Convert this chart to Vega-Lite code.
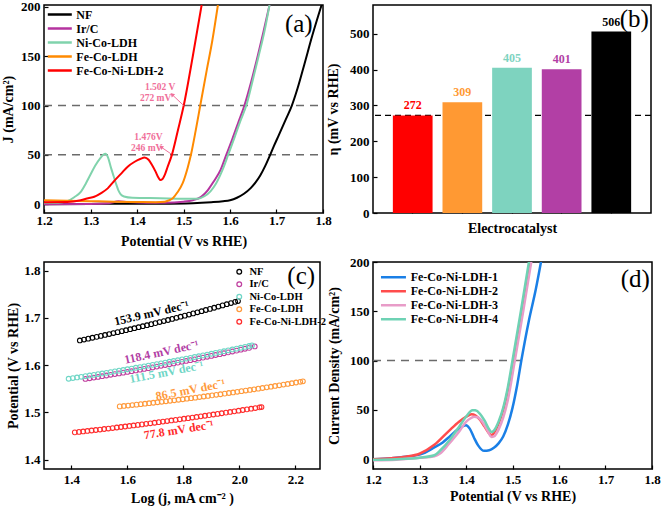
{
"$schema": "https://vega.github.io/schema/vega-lite/v6.json",
"background": "white",
"padding": {"left": 0, "top": 0, "right": 0, "bottom": 0},
"config": {
 "view": {"stroke": "black", "strokeWidth": 1.5},
 "font": "Liberation Serif",
 "axis": {"grid": false, "domain": false, "labelFont": "Liberation Serif", "labelFontSize": 13, "labelFontWeight": "bold", "labelColor": "#000", "titleFont": "Liberation Serif", "titleFontSize": 14, "titleFontWeight": "bold", "titleColor": "#000", "tickColor": "#000", "tickSize": -4, "tickWidth": 1.2, "labelPadding": 8, "titlePadding": 3, "labelFlush": false, "labelOverlap": false},
 "legend": {"labelFont": "Liberation Serif", "labelFontWeight": "bold", "labelColor": "#000", "title": null},
 "text": {"font": "Liberation Serif", "fontWeight": "bold"}
},
"columns": 2,
"spacing": {"row": 49, "column": 50},
"bounds": "flush",
"align": "all",
"resolve": {"scale": {"color": "independent"}},
"concat": [
 {
  "width": 279, "height": 208,
  "encoding": {
   "x": {"field": "V", "type": "quantitative", "scale": {"domain": [1.2, 1.8], "nice": false, "zero": false}, "axis": {"values": [1.2, 1.3, 1.4, 1.5, 1.6, 1.7, 1.8], "format": ".1f", "title": "Potential (V vs RHE)", "labelPadding": 5, "titlePadding": 7}},
   "y": {"field": "J", "type": "quantitative", "scale": {"domain": [-9, 202], "nice": false, "zero": false}, "axis": {"values": [0, 50, 100, 150, 200], "title": "J (mA/cm²)", "titlePadding": 5}}
  },
  "layer": [
   {"data": {"values": [{"V": 1.2, "V2": 1.8, "J": 50}, {"V": 1.2, "V2": 1.8, "J": 100}]},
    "mark": {"type": "rule", "color": "#6b6b6b", "strokeWidth": 1.5, "strokeDash": [8, 6]},
    "encoding": {"x2": {"field": "V2"}}},
   {"data": {"values": [
     {"s":"NF","V":1.2,"J":0},{"s":"NF","V":1.3,"J":0.2},{"s":"NF","V":1.35,"J":0.4},{"s":"NF","V":1.45,"J":0.5},{"s":"NF","V":1.52,"J":1},{"s":"NF","V":1.56,"J":2},{"s":"NF","V":1.585,"J":3},{"s":"NF","V":1.6,"J":4},{"s":"NF","V":1.615,"J":6.5},{"s":"NF","V":1.63,"J":10.5},{"s":"NF","V":1.645,"J":16.5},{"s":"NF","V":1.655,"J":22},{"s":"NF","V":1.665,"J":29},{"s":"NF","V":1.675,"J":38},{"s":"NF","V":1.685,"J":48.5},{"s":"NF","V":1.695,"J":59.5},{"s":"NF","V":1.705,"J":70},{"s":"NF","V":1.72,"J":86},{"s":"NF","V":1.733,"J":100},{"s":"NF","V":1.745,"J":117},{"s":"NF","V":1.76,"J":142},{"s":"NF","V":1.777,"J":171},{"s":"NF","V":1.797,"J":202},
     {"s":"Ir/C","V":1.2,"J":0},{"s":"Ir/C","V":1.3,"J":0.2},{"s":"Ir/C","V":1.34,"J":1},{"s":"Ir/C","V":1.36,"J":2.8},{"s":"Ir/C","V":1.38,"J":2.2},{"s":"Ir/C","V":1.42,"J":1.5},{"s":"Ir/C","V":1.46,"J":1.5},{"s":"Ir/C","V":1.5,"J":2.5},{"s":"Ir/C","V":1.52,"J":4},{"s":"Ir/C","V":1.538,"J":7.4},{"s":"Ir/C","V":1.552,"J":14},{"s":"Ir/C","V":1.565,"J":23},{"s":"Ir/C","V":1.58,"J":35},{"s":"Ir/C","V":1.592,"J":50},{"s":"Ir/C","V":1.605,"J":66},{"s":"Ir/C","V":1.618,"J":83},{"s":"Ir/C","V":1.631,"J":100},{"s":"Ir/C","V":1.645,"J":123},{"s":"Ir/C","V":1.66,"J":151},{"s":"Ir/C","V":1.672,"J":175},{"s":"Ir/C","V":1.685,"J":202},
     {"s":"Ni-Co-LDH","V":1.2,"J":1.5},{"s":"Ni-Co-LDH","V":1.23,"J":1.5},{"s":"Ni-Co-LDH","V":1.25,"J":3},{"s":"Ni-Co-LDH","V":1.265,"J":7},{"s":"Ni-Co-LDH","V":1.28,"J":13},{"s":"Ni-Co-LDH","V":1.29,"J":21},{"s":"Ni-Co-LDH","V":1.3,"J":30},{"s":"Ni-Co-LDH","V":1.31,"J":39},{"s":"Ni-Co-LDH","V":1.32,"J":46},{"s":"Ni-Co-LDH","V":1.332,"J":51},{"s":"Ni-Co-LDH","V":1.338,"J":47},{"s":"Ni-Co-LDH","V":1.344,"J":37},{"s":"Ni-Co-LDH","V":1.35,"J":28},{"s":"Ni-Co-LDH","V":1.355,"J":20.5},{"s":"Ni-Co-LDH","V":1.36,"J":14},{"s":"Ni-Co-LDH","V":1.365,"J":10},{"s":"Ni-Co-LDH","V":1.372,"J":7.8},{"s":"Ni-Co-LDH","V":1.39,"J":6.5},{"s":"Ni-Co-LDH","V":1.45,"J":6},{"s":"Ni-Co-LDH","V":1.5,"J":5.5},{"s":"Ni-Co-LDH","V":1.53,"J":5.5},{"s":"Ni-Co-LDH","V":1.545,"J":8},{"s":"Ni-Co-LDH","V":1.558,"J":13},{"s":"Ni-Co-LDH","V":1.57,"J":21},{"s":"Ni-Co-LDH","V":1.585,"J":36},{"s":"Ni-Co-LDH","V":1.596,"J":50},{"s":"Ni-Co-LDH","V":1.61,"J":68},{"s":"Ni-Co-LDH","V":1.622,"J":84},{"s":"Ni-Co-LDH","V":1.635,"J":100},{"s":"Ni-Co-LDH","V":1.648,"J":124},{"s":"Ni-Co-LDH","V":1.662,"J":151},{"s":"Ni-Co-LDH","V":1.674,"J":175},{"s":"Ni-Co-LDH","V":1.685,"J":202},
     {"s":"Fe-Co-LDH","V":1.2,"J":4},{"s":"Fe-Co-LDH","V":1.25,"J":3.5},{"s":"Fe-Co-LDH","V":1.3,"J":3},{"s":"Fe-Co-LDH","V":1.35,"J":2.5},{"s":"Fe-Co-LDH","V":1.4,"J":2.2},{"s":"Fe-Co-LDH","V":1.44,"J":2},{"s":"Fe-Co-LDH","V":1.46,"J":2.5},{"s":"Fe-Co-LDH","V":1.468,"J":3.7},{"s":"Fe-Co-LDH","V":1.477,"J":6},{"s":"Fe-Co-LDH","V":1.487,"J":12},{"s":"Fe-Co-LDH","V":1.498,"J":21},{"s":"Fe-Co-LDH","V":1.509,"J":37},{"s":"Fe-Co-LDH","V":1.516,"J":50},{"s":"Fe-Co-LDH","V":1.526,"J":74},{"s":"Fe-Co-LDH","V":1.536,"J":100},{"s":"Fe-Co-LDH","V":1.55,"J":136},{"s":"Fe-Co-LDH","V":1.562,"J":166},{"s":"Fe-Co-LDH","V":1.574,"J":202},
     {"s":"Fe-Co-Ni-LDH-2","V":1.2,"J":2},{"s":"Fe-Co-Ni-LDH-2","V":1.25,"J":2.2},{"s":"Fe-Co-Ni-LDH-2","V":1.279,"J":4},{"s":"Fe-Co-Ni-LDH-2","V":1.295,"J":6},{"s":"Fe-Co-Ni-LDH-2","V":1.308,"J":7.5},{"s":"Fe-Co-Ni-LDH-2","V":1.322,"J":11},{"s":"Fe-Co-Ni-LDH-2","V":1.337,"J":16},{"s":"Fe-Co-Ni-LDH-2","V":1.35,"J":23},{"s":"Fe-Co-Ni-LDH-2","V":1.366,"J":31},{"s":"Fe-Co-Ni-LDH-2","V":1.38,"J":38},{"s":"Fe-Co-Ni-LDH-2","V":1.395,"J":43},{"s":"Fe-Co-Ni-LDH-2","V":1.408,"J":46},{"s":"Fe-Co-Ni-LDH-2","V":1.416,"J":47.3},{"s":"Fe-Co-Ni-LDH-2","V":1.425,"J":45},{"s":"Fe-Co-Ni-LDH-2","V":1.432,"J":40},{"s":"Fe-Co-Ni-LDH-2","V":1.44,"J":33},{"s":"Fe-Co-Ni-LDH-2","V":1.446,"J":27},{"s":"Fe-Co-Ni-LDH-2","V":1.45,"J":24.5},{"s":"Fe-Co-Ni-LDH-2","V":1.455,"J":25.5},{"s":"Fe-Co-Ni-LDH-2","V":1.46,"J":30},{"s":"Fe-Co-Ni-LDH-2","V":1.466,"J":38},{"s":"Fe-Co-Ni-LDH-2","V":1.475,"J":50},{"s":"Fe-Co-Ni-LDH-2","V":1.488,"J":75},{"s":"Fe-Co-Ni-LDH-2","V":1.5005,"J":100},{"s":"Fe-Co-Ni-LDH-2","V":1.52,"J":150},{"s":"Fe-Co-Ni-LDH-2","V":1.539,"J":202}
    ]},
    "mark": {"type": "line", "strokeWidth": 2, "interpolate": "monotone", "clip": true},
    "encoding": {"color": {"field": "s", "type": "nominal", "scale": {"domain": ["NF", "Ir/C", "Ni-Co-LDH", "Fe-Co-LDH", "Fe-Co-Ni-LDH-2"], "range": ["#000000", "#B5339F", "#80D3AC", "#FF8A00", "#FF0000"]},
      "legend": {"orient": "none", "legendX": 14.3, "legendY": 2, "labelFontSize": 12, "symbolType": "M-3,0H1", "symbolStrokeWidth": 2.5, "symbolSize": 144, "rowPadding": -1, "labelOffset": 3}}}},
   {"data": {"values": [{"V": 1.5005, "J": 100, "V2": 1.4753, "J2": 111.2}, {"V": 1.4731, "J": 51, "V2": 1.4516, "J2": 58}]},
    "mark": {"type": "rule", "color": "#F0709A", "strokeWidth": 1},
    "encoding": {"x2": {"field": "V2"}, "y2": {"field": "J2"}}},
   {"data": {"values": [{"V": 1.4753, "J": 111.2}]},
    "mark": {"type": "point", "shape": "triangle-up", "filled": true, "size": 22, "angle": 315, "color": "#F0709A", "opacity": 1}},
   {"data": {"values": [{"V": 1.4516, "J": 58}]},
    "mark": {"type": "point", "shape": "triangle-up", "filled": true, "size": 22, "angle": 304, "color": "#F0709A", "opacity": 1}},
   {"data": {"values": [{"V": 1.4498, "J": 118.8, "t": "1.502 V"}, {"V": 1.4401, "J": 107.4, "t": "272 mV"}, {"V": 1.4246, "J": 68.5, "t": "1.476V"}, {"V": 1.421, "J": 57, "t": "246 mV"}]},
    "mark": {"type": "text", "fontSize": 9.5, "color": "#F0709A"},
    "encoding": {"text": {"field": "t"}}},
   {"data": {"values": [{"V": 1.748, "J": 183, "t": "(a)"}]},
    "mark": {"type": "text", "fontSize": 25, "fontWeight": "normal", "color": "#000"},
    "encoding": {"text": {"field": "t"}}}
  ]
 },
 {
  "width": 278, "height": 208,
  "data": {"values": [{"c": "Fe-Co-Ni-LDH-2", "eta": 272}, {"c": "Fe-Co-LDH", "eta": 309}, {"c": "Ni-Co-LDH", "eta": 405}, {"c": "Ir/C", "eta": 401}, {"c": "NF", "eta": 506}]},
  "encoding": {
   "x": {"field": "c", "type": "nominal", "sort": null, "scale": {"domain": ["Fe-Co-Ni-LDH-2", "Fe-Co-LDH", "Ni-Co-LDH", "Ir/C", "NF"], "paddingInner": 0.2, "paddingOuter": 0.4}, "axis": {"labels": false, "title": "Electrocatalyst", "titlePadding": 8}},
   "y": {"field": "eta", "type": "quantitative", "scale": {"domain": [0, 580], "nice": false}, "axis": {"values": [0, 100, 200, 300, 400, 500], "title": "η (mV vs RHE)", "titlePadding": 9}}
  },
  "layer": [
   {"data": {"values": [{"r": 272}]}, "mark": {"type": "rule", "color": "#000", "strokeWidth": 1.2, "strokeDash": [6, 4]},
    "encoding": {"x": null, "y": {"field": "r", "type": "quantitative"}}},
   {"mark": {"type": "bar"},
    "encoding": {"color": {"field": "c", "type": "nominal", "scale": {"domain": ["Fe-Co-Ni-LDH-2", "Fe-Co-LDH", "Ni-Co-LDH", "Ir/C", "NF"], "range": ["#FF0000", "#FF9933", "#7ED3BF", "#B23FA5", "#000000"]}, "legend": null}}},
   {"mark": {"type": "text", "fontSize": 12, "baseline": "bottom", "dy": -3},
    "encoding": {"text": {"field": "eta"}, "color": {"field": "c", "type": "nominal", "scale": {"domain": ["Fe-Co-Ni-LDH-2", "Fe-Co-LDH", "Ni-Co-LDH", "Ir/C", "NF"], "range": ["#FF0000", "#FF8C1A", "#7ED3BF", "#B23FA5", "#000000"]}, "legend": null}}},
   {"data": {"values": [{"c": "NF", "eta": 540, "t": "(b)"}]},
    "mark": {"type": "text", "fontSize": 25, "fontWeight": "normal", "color": "#000", "dx": 23},
    "encoding": {"text": {"field": "t"}}}
  ]
 },
 {
  "width": 276, "height": 207,
  "encoding": {
   "x": {"field": "L", "type": "quantitative", "scale": {"domain": [1.302, 2.288], "nice": false, "zero": false}, "axis": {"values": [1.4, 1.6, 1.8, 2.0, 2.2], "format": ".1f", "title": "Log (j, mA cm⁻² )", "titlePadding": 5}},
   "y": {"field": "P", "type": "quantitative", "scale": {"domain": [1.38, 1.818], "nice": false, "zero": false}, "axis": {"values": [1.4, 1.5, 1.6, 1.7, 1.8], "format": ".1f", "title": "Potential (V vs RHE)"}}
  },
  "layer": [
   {"data": {"values": [
    {"s":"NF","L":1.43,"P":1.652},{"s":"NF","L":1.445,"P":1.6539},{"s":"NF","L":1.46,"P":1.6558},{"s":"NF","L":1.475,"P":1.6577},{"s":"NF","L":1.49,"P":1.6596},{"s":"NF","L":1.505,"P":1.6616},{"s":"NF","L":1.52,"P":1.6636},{"s":"NF","L":1.535,"P":1.6656},{"s":"NF","L":1.55,"P":1.6676},{"s":"NF","L":1.565,"P":1.6696},{"s":"NF","L":1.58,"P":1.6717},{"s":"NF","L":1.595,"P":1.6737},{"s":"NF","L":1.61,"P":1.6758},{"s":"NF","L":1.625,"P":1.6779},{"s":"NF","L":1.64,"P":1.68},{"s":"NF","L":1.655,"P":1.6822},{"s":"NF","L":1.67,"P":1.6843},{"s":"NF","L":1.685,"P":1.6865},{"s":"NF","L":1.7,"P":1.6887},{"s":"NF","L":1.715,"P":1.6909},{"s":"NF","L":1.73,"P":1.6931},{"s":"NF","L":1.745,"P":1.6953},{"s":"NF","L":1.76,"P":1.6976},{"s":"NF","L":1.775,"P":1.6999},{"s":"NF","L":1.79,"P":1.7022},{"s":"NF","L":1.805,"P":1.7045},{"s":"NF","L":1.82,"P":1.7068},{"s":"NF","L":1.835,"P":1.7092},{"s":"NF","L":1.85,"P":1.7116},{"s":"NF","L":1.865,"P":1.7139},{"s":"NF","L":1.88,"P":1.7164},{"s":"NF","L":1.895,"P":1.7188},{"s":"NF","L":1.91,"P":1.7212},{"s":"NF","L":1.925,"P":1.7237},{"s":"NF","L":1.94,"P":1.7262},{"s":"NF","L":1.955,"P":1.7287},{"s":"NF","L":1.97,"P":1.7312},{"s":"NF","L":1.985,"P":1.7337},{"s":"NF","L":1.995,"P":1.7354},
    {"s":"Ir/C","L":1.45,"P":1.5705},{"s":"Ir/C","L":1.465,"P":1.5719},{"s":"Ir/C","L":1.48,"P":1.5734},{"s":"Ir/C","L":1.495,"P":1.5748},{"s":"Ir/C","L":1.51,"P":1.5763},{"s":"Ir/C","L":1.525,"P":1.5778},{"s":"Ir/C","L":1.54,"P":1.5793},{"s":"Ir/C","L":1.555,"P":1.5808},{"s":"Ir/C","L":1.57,"P":1.5823},{"s":"Ir/C","L":1.585,"P":1.5839},{"s":"Ir/C","L":1.6,"P":1.5854},{"s":"Ir/C","L":1.615,"P":1.587},{"s":"Ir/C","L":1.63,"P":1.5886},{"s":"Ir/C","L":1.645,"P":1.5902},{"s":"Ir/C","L":1.66,"P":1.5918},{"s":"Ir/C","L":1.675,"P":1.5934},{"s":"Ir/C","L":1.69,"P":1.595},{"s":"Ir/C","L":1.705,"P":1.5967},{"s":"Ir/C","L":1.72,"P":1.5983},{"s":"Ir/C","L":1.735,"P":1.6},{"s":"Ir/C","L":1.75,"P":1.6017},{"s":"Ir/C","L":1.765,"P":1.6034},{"s":"Ir/C","L":1.78,"P":1.6051},{"s":"Ir/C","L":1.795,"P":1.6068},{"s":"Ir/C","L":1.81,"P":1.6086},{"s":"Ir/C","L":1.825,"P":1.6103},{"s":"Ir/C","L":1.84,"P":1.6121},{"s":"Ir/C","L":1.855,"P":1.6139},{"s":"Ir/C","L":1.87,"P":1.6157},{"s":"Ir/C","L":1.885,"P":1.6175},{"s":"Ir/C","L":1.9,"P":1.6193},{"s":"Ir/C","L":1.915,"P":1.6212},{"s":"Ir/C","L":1.93,"P":1.623},{"s":"Ir/C","L":1.945,"P":1.6249},{"s":"Ir/C","L":1.96,"P":1.6268},{"s":"Ir/C","L":1.975,"P":1.6286},{"s":"Ir/C","L":1.99,"P":1.6305},{"s":"Ir/C","L":2.005,"P":1.6325},{"s":"Ir/C","L":2.02,"P":1.6344},{"s":"Ir/C","L":2.035,"P":1.6363},{"s":"Ir/C","L":2.055,"P":1.6394},
    {"s":"Ni-Co-LDH","L":1.39,"P":1.571},{"s":"Ni-Co-LDH","L":1.405,"P":1.5724},{"s":"Ni-Co-LDH","L":1.42,"P":1.5737},{"s":"Ni-Co-LDH","L":1.435,"P":1.5751},{"s":"Ni-Co-LDH","L":1.45,"P":1.5765},{"s":"Ni-Co-LDH","L":1.465,"P":1.5779},{"s":"Ni-Co-LDH","L":1.48,"P":1.5793},{"s":"Ni-Co-LDH","L":1.495,"P":1.5807},{"s":"Ni-Co-LDH","L":1.51,"P":1.5822},{"s":"Ni-Co-LDH","L":1.525,"P":1.5836},{"s":"Ni-Co-LDH","L":1.54,"P":1.5851},{"s":"Ni-Co-LDH","L":1.555,"P":1.5866},{"s":"Ni-Co-LDH","L":1.57,"P":1.5881},{"s":"Ni-Co-LDH","L":1.585,"P":1.5896},{"s":"Ni-Co-LDH","L":1.6,"P":1.5911},{"s":"Ni-Co-LDH","L":1.615,"P":1.5926},{"s":"Ni-Co-LDH","L":1.63,"P":1.5942},{"s":"Ni-Co-LDH","L":1.645,"P":1.5957},{"s":"Ni-Co-LDH","L":1.66,"P":1.5973},{"s":"Ni-Co-LDH","L":1.675,"P":1.5988},{"s":"Ni-Co-LDH","L":1.69,"P":1.6004},{"s":"Ni-Co-LDH","L":1.705,"P":1.602},{"s":"Ni-Co-LDH","L":1.72,"P":1.6036},{"s":"Ni-Co-LDH","L":1.735,"P":1.6053},{"s":"Ni-Co-LDH","L":1.75,"P":1.6069},{"s":"Ni-Co-LDH","L":1.765,"P":1.6085},{"s":"Ni-Co-LDH","L":1.78,"P":1.6102},{"s":"Ni-Co-LDH","L":1.795,"P":1.6119},{"s":"Ni-Co-LDH","L":1.81,"P":1.6136},{"s":"Ni-Co-LDH","L":1.825,"P":1.6153},{"s":"Ni-Co-LDH","L":1.84,"P":1.617},{"s":"Ni-Co-LDH","L":1.855,"P":1.6187},{"s":"Ni-Co-LDH","L":1.87,"P":1.6204},{"s":"Ni-Co-LDH","L":1.885,"P":1.6222},{"s":"Ni-Co-LDH","L":1.9,"P":1.6239},{"s":"Ni-Co-LDH","L":1.915,"P":1.6257},{"s":"Ni-Co-LDH","L":1.93,"P":1.6275},{"s":"Ni-Co-LDH","L":1.945,"P":1.6293},{"s":"Ni-Co-LDH","L":1.96,"P":1.6311},{"s":"Ni-Co-LDH","L":1.975,"P":1.6329},{"s":"Ni-Co-LDH","L":1.99,"P":1.6347},{"s":"Ni-Co-LDH","L":2.005,"P":1.6366},{"s":"Ni-Co-LDH","L":2.02,"P":1.6384},{"s":"Ni-Co-LDH","L":2.035,"P":1.6403},{"s":"Ni-Co-LDH","L":2.045,"P":1.6415},
    {"s":"Fe-Co-LDH","L":1.5725,"P":1.5125},{"s":"Fe-Co-LDH","L":1.5875,"P":1.5134},{"s":"Fe-Co-LDH","L":1.6025,"P":1.5143},{"s":"Fe-Co-LDH","L":1.6175,"P":1.5153},{"s":"Fe-Co-LDH","L":1.6325,"P":1.5162},{"s":"Fe-Co-LDH","L":1.6475,"P":1.5172},{"s":"Fe-Co-LDH","L":1.6625,"P":1.5182},{"s":"Fe-Co-LDH","L":1.6775,"P":1.5192},{"s":"Fe-Co-LDH","L":1.6925,"P":1.5202},{"s":"Fe-Co-LDH","L":1.7075,"P":1.5212},{"s":"Fe-Co-LDH","L":1.7225,"P":1.5222},{"s":"Fe-Co-LDH","L":1.7375,"P":1.5233},{"s":"Fe-Co-LDH","L":1.7525,"P":1.5243},{"s":"Fe-Co-LDH","L":1.7675,"P":1.5254},{"s":"Fe-Co-LDH","L":1.7825,"P":1.5265},{"s":"Fe-Co-LDH","L":1.7975,"P":1.5276},{"s":"Fe-Co-LDH","L":1.8125,"P":1.5287},{"s":"Fe-Co-LDH","L":1.8275,"P":1.5299},{"s":"Fe-Co-LDH","L":1.8425,"P":1.531},{"s":"Fe-Co-LDH","L":1.8575,"P":1.5322},{"s":"Fe-Co-LDH","L":1.8725,"P":1.5334},{"s":"Fe-Co-LDH","L":1.8875,"P":1.5346},{"s":"Fe-Co-LDH","L":1.9025,"P":1.5358},{"s":"Fe-Co-LDH","L":1.9175,"P":1.537},{"s":"Fe-Co-LDH","L":1.9325,"P":1.5382},{"s":"Fe-Co-LDH","L":1.9475,"P":1.5395},{"s":"Fe-Co-LDH","L":1.9625,"P":1.5408},{"s":"Fe-Co-LDH","L":1.9775,"P":1.542},{"s":"Fe-Co-LDH","L":1.9925,"P":1.5433},{"s":"Fe-Co-LDH","L":2.0075,"P":1.5447},{"s":"Fe-Co-LDH","L":2.0225,"P":1.546},{"s":"Fe-Co-LDH","L":2.0375,"P":1.5473},{"s":"Fe-Co-LDH","L":2.0525,"P":1.5487},{"s":"Fe-Co-LDH","L":2.0675,"P":1.55},{"s":"Fe-Co-LDH","L":2.0825,"P":1.5514},{"s":"Fe-Co-LDH","L":2.0975,"P":1.5528},{"s":"Fe-Co-LDH","L":2.1125,"P":1.5542},{"s":"Fe-Co-LDH","L":2.1275,"P":1.5557},{"s":"Fe-Co-LDH","L":2.1425,"P":1.5571},{"s":"Fe-Co-LDH","L":2.1575,"P":1.5586},{"s":"Fe-Co-LDH","L":2.1725,"P":1.56},{"s":"Fe-Co-LDH","L":2.1875,"P":1.5615},{"s":"Fe-Co-LDH","L":2.2025,"P":1.563},{"s":"Fe-Co-LDH","L":2.2175,"P":1.5645},{"s":"Fe-Co-LDH","L":2.227,"P":1.5655},
    {"s":"Fe-Co-Ni-LDH-2","L":1.412,"P":1.4575},{"s":"Fe-Co-Ni-LDH-2","L":1.427,"P":1.4585},{"s":"Fe-Co-Ni-LDH-2","L":1.442,"P":1.4595},{"s":"Fe-Co-Ni-LDH-2","L":1.457,"P":1.4605},{"s":"Fe-Co-Ni-LDH-2","L":1.472,"P":1.4615},{"s":"Fe-Co-Ni-LDH-2","L":1.487,"P":1.4625},{"s":"Fe-Co-Ni-LDH-2","L":1.502,"P":1.4635},{"s":"Fe-Co-Ni-LDH-2","L":1.517,"P":1.4646},{"s":"Fe-Co-Ni-LDH-2","L":1.532,"P":1.4656},{"s":"Fe-Co-Ni-LDH-2","L":1.547,"P":1.4667},{"s":"Fe-Co-Ni-LDH-2","L":1.562,"P":1.4678},{"s":"Fe-Co-Ni-LDH-2","L":1.577,"P":1.4689},{"s":"Fe-Co-Ni-LDH-2","L":1.592,"P":1.4699},{"s":"Fe-Co-Ni-LDH-2","L":1.607,"P":1.4711},{"s":"Fe-Co-Ni-LDH-2","L":1.622,"P":1.4722},{"s":"Fe-Co-Ni-LDH-2","L":1.637,"P":1.4733},{"s":"Fe-Co-Ni-LDH-2","L":1.652,"P":1.4744},{"s":"Fe-Co-Ni-LDH-2","L":1.667,"P":1.4756},{"s":"Fe-Co-Ni-LDH-2","L":1.682,"P":1.4767},{"s":"Fe-Co-Ni-LDH-2","L":1.697,"P":1.4779},{"s":"Fe-Co-Ni-LDH-2","L":1.712,"P":1.4791},{"s":"Fe-Co-Ni-LDH-2","L":1.727,"P":1.4803},{"s":"Fe-Co-Ni-LDH-2","L":1.742,"P":1.4815},{"s":"Fe-Co-Ni-LDH-2","L":1.757,"P":1.4827},{"s":"Fe-Co-Ni-LDH-2","L":1.772,"P":1.4839},{"s":"Fe-Co-Ni-LDH-2","L":1.787,"P":1.4851},{"s":"Fe-Co-Ni-LDH-2","L":1.802,"P":1.4864},{"s":"Fe-Co-Ni-LDH-2","L":1.817,"P":1.4876},{"s":"Fe-Co-Ni-LDH-2","L":1.832,"P":1.4889},{"s":"Fe-Co-Ni-LDH-2","L":1.847,"P":1.4901},{"s":"Fe-Co-Ni-LDH-2","L":1.862,"P":1.4914},{"s":"Fe-Co-Ni-LDH-2","L":1.877,"P":1.4927},{"s":"Fe-Co-Ni-LDH-2","L":1.892,"P":1.494},{"s":"Fe-Co-Ni-LDH-2","L":1.907,"P":1.4953},{"s":"Fe-Co-Ni-LDH-2","L":1.922,"P":1.4966},{"s":"Fe-Co-Ni-LDH-2","L":1.937,"P":1.498},{"s":"Fe-Co-Ni-LDH-2","L":1.952,"P":1.4993},{"s":"Fe-Co-Ni-LDH-2","L":1.967,"P":1.5007},{"s":"Fe-Co-Ni-LDH-2","L":1.982,"P":1.502},{"s":"Fe-Co-Ni-LDH-2","L":1.997,"P":1.5034},{"s":"Fe-Co-Ni-LDH-2","L":2.012,"P":1.5048},{"s":"Fe-Co-Ni-LDH-2","L":2.027,"P":1.5062},{"s":"Fe-Co-Ni-LDH-2","L":2.042,"P":1.5076},{"s":"Fe-Co-Ni-LDH-2","L":2.057,"P":1.509},{"s":"Fe-Co-Ni-LDH-2","L":2.072,"P":1.5104},{"s":"Fe-Co-Ni-LDH-2","L":2.079,"P":1.5111}
   ]},
    "mark": {"type": "point", "shape": "circle", "filled": false, "size": 22, "strokeWidth": 1.1, "opacity": 1},
    "encoding": {"color": {"field": "s", "type": "nominal", "scale": {"domain": ["NF", "Ir/C", "Ni-Co-LDH", "Fe-Co-LDH", "Fe-Co-Ni-LDH-2"], "range": ["#000000", "#C0409F", "#6FD6C6", "#FF9A3C", "#FF2A2A"]},
      "legend": {"orient": "none", "legendX": 190, "legendY": 4.5, "labelFontSize": 10.5, "symbolSize": 22, "symbolStrokeWidth": 1.3, "rowPadding": 1.5, "labelOffset": 5}}}},
   {"data": {"values": [{"L": 1.686, "P": 1.71, "t": "153.9 mV dec⁻¹"}]}, "mark": {"type": "text", "fontSize": 12, "angle": 347, "color": "#000"}, "encoding": {"text": {"field": "t"}}},
   {"data": {"values": [{"L": 1.7214, "P": 1.6275, "t": "118.4 mV dec⁻¹"}]}, "mark": {"type": "text", "fontSize": 12, "angle": 348, "color": "#B23FA5"}, "encoding": {"text": {"field": "t"}}},
   {"data": {"values": [{"L": 1.739, "P": 1.5852, "t": "111.5 mV dec⁻¹"}]}, "mark": {"type": "text", "fontSize": 12, "angle": 349, "color": "#6FD6C6"}, "encoding": {"text": {"field": "t"}}},
   {"data": {"values": [{"L": 1.825, "P": 1.5478, "t": "86.5 mV dec⁻¹"}]}, "mark": {"type": "text", "fontSize": 12, "angle": 349, "color": "#FF9A3C"}, "encoding": {"text": {"field": "t"}}},
   {"data": {"values": [{"L": 1.783, "P": 1.4632, "t": "77.8 mV dec⁻¹"}]}, "mark": {"type": "text", "fontSize": 12, "angle": 351, "color": "#FF2A2A"}, "encoding": {"text": {"field": "t"}}},
   {"data": {"values": [{"L": 2.221, "P": 1.789, "t": "(c)"}]}, "mark": {"type": "text", "fontSize": 25, "fontWeight": "normal", "color": "#000"}, "encoding": {"text": {"field": "t"}}}
  ]
 },
 {
  "width": 279, "height": 207,
  "encoding": {
   "x": {"field": "V", "type": "quantitative", "scale": {"domain": [1.2, 1.8], "nice": false, "zero": false}, "axis": {"values": [1.2, 1.3, 1.4, 1.5, 1.6, 1.7, 1.8], "format": ".1f", "title": "Potential (V vs RHE)"}},
   "y": {"field": "J", "type": "quantitative", "scale": {"domain": [-10, 200], "nice": false, "zero": false}, "axis": {"values": [0, 50, 100, 150, 200], "title": "Current Density (mA/cm²)", "titlePadding": 8}}
  },
  "layer": [
   {"data": {"values": [{"V": 1.2, "V2": 1.521, "J": 100}]},
    "mark": {"type": "rule", "color": "#6b6b6b", "strokeWidth": 1.5, "strokeDash": [8, 6]},
    "encoding": {"x2": {"field": "V2"}}},
   {"data": {"values": [
     {"s":"Fe-Co-Ni-LDH-1","V":1.2,"J":0},{"s":"Fe-Co-Ni-LDH-1","V":1.24,"J":1},{"s":"Fe-Co-Ni-LDH-1","V":1.27,"J":2.5},{"s":"Fe-Co-Ni-LDH-1","V":1.302,"J":4.8},{"s":"Fe-Co-Ni-LDH-1","V":1.332,"J":11.9},{"s":"Fe-Co-Ni-LDH-1","V":1.35,"J":17},{"s":"Fe-Co-Ni-LDH-1","V":1.364,"J":22.6},{"s":"Fe-Co-Ni-LDH-1","V":1.385,"J":31},{"s":"Fe-Co-Ni-LDH-1","V":1.4,"J":34.5},{"s":"Fe-Co-Ni-LDH-1","V":1.408,"J":31},{"s":"Fe-Co-Ni-LDH-1","V":1.417,"J":22},{"s":"Fe-Co-Ni-LDH-1","V":1.426,"J":14},{"s":"Fe-Co-Ni-LDH-1","V":1.439,"J":8.4},{"s":"Fe-Co-Ni-LDH-1","V":1.45,"J":9},{"s":"Fe-Co-Ni-LDH-1","V":1.46,"J":11.5},{"s":"Fe-Co-Ni-LDH-1","V":1.47,"J":16},{"s":"Fe-Co-Ni-LDH-1","V":1.48,"J":23},{"s":"Fe-Co-Ni-LDH-1","V":1.49,"J":35},{"s":"Fe-Co-Ni-LDH-1","V":1.5,"J":52},{"s":"Fe-Co-Ni-LDH-1","V":1.51,"J":75},{"s":"Fe-Co-Ni-LDH-1","V":1.519,"J":100},{"s":"Fe-Co-Ni-LDH-1","V":1.535,"J":140},{"s":"Fe-Co-Ni-LDH-1","V":1.55,"J":172},{"s":"Fe-Co-Ni-LDH-1","V":1.562,"J":202},
     {"s":"Fe-Co-Ni-LDH-2","V":1.2,"J":0},{"s":"Fe-Co-Ni-LDH-2","V":1.24,"J":1},{"s":"Fe-Co-Ni-LDH-2","V":1.27,"J":2.5},{"s":"Fe-Co-Ni-LDH-2","V":1.3,"J":5.5},{"s":"Fe-Co-Ni-LDH-2","V":1.332,"J":14.5},{"s":"Fe-Co-Ni-LDH-2","V":1.364,"J":29},{"s":"Fe-Co-Ni-LDH-2","V":1.385,"J":38},{"s":"Fe-Co-Ni-LDH-2","V":1.4,"J":43},{"s":"Fe-Co-Ni-LDH-2","V":1.412,"J":45.5},{"s":"Fe-Co-Ni-LDH-2","V":1.42,"J":44.5},{"s":"Fe-Co-Ni-LDH-2","V":1.43,"J":40},{"s":"Fe-Co-Ni-LDH-2","V":1.44,"J":33},{"s":"Fe-Co-Ni-LDH-2","V":1.45,"J":26},{"s":"Fe-Co-Ni-LDH-2","V":1.455,"J":24.5},{"s":"Fe-Co-Ni-LDH-2","V":1.46,"J":26.5},{"s":"Fe-Co-Ni-LDH-2","V":1.47,"J":36},{"s":"Fe-Co-Ni-LDH-2","V":1.48,"J":50},{"s":"Fe-Co-Ni-LDH-2","V":1.49,"J":70},{"s":"Fe-Co-Ni-LDH-2","V":1.502,"J":100},{"s":"Fe-Co-Ni-LDH-2","V":1.52,"J":148},{"s":"Fe-Co-Ni-LDH-2","V":1.538,"J":202},
     {"s":"Fe-Co-Ni-LDH-3","V":1.2,"J":-1},{"s":"Fe-Co-Ni-LDH-3","V":1.25,"J":-0.5},{"s":"Fe-Co-Ni-LDH-3","V":1.302,"J":1.3},{"s":"Fe-Co-Ni-LDH-3","V":1.332,"J":3},{"s":"Fe-Co-Ni-LDH-3","V":1.345,"J":6},{"s":"Fe-Co-Ni-LDH-3","V":1.364,"J":16},{"s":"Fe-Co-Ni-LDH-3","V":1.385,"J":27.7},{"s":"Fe-Co-Ni-LDH-3","V":1.4,"J":37.8},{"s":"Fe-Co-Ni-LDH-3","V":1.41,"J":41.5},{"s":"Fe-Co-Ni-LDH-3","V":1.418,"J":43},{"s":"Fe-Co-Ni-LDH-3","V":1.425,"J":42.5},{"s":"Fe-Co-Ni-LDH-3","V":1.435,"J":38},{"s":"Fe-Co-Ni-LDH-3","V":1.445,"J":30},{"s":"Fe-Co-Ni-LDH-3","V":1.455,"J":22.5},{"s":"Fe-Co-Ni-LDH-3","V":1.46,"J":23},{"s":"Fe-Co-Ni-LDH-3","V":1.47,"J":30},{"s":"Fe-Co-Ni-LDH-3","V":1.48,"J":42},{"s":"Fe-Co-Ni-LDH-3","V":1.49,"J":60},{"s":"Fe-Co-Ni-LDH-3","V":1.505,"J":100},{"s":"Fe-Co-Ni-LDH-3","V":1.523,"J":150},{"s":"Fe-Co-Ni-LDH-3","V":1.541,"J":202},
     {"s":"Fe-Co-Ni-LDH-4","V":1.2,"J":-0.5},{"s":"Fe-Co-Ni-LDH-4","V":1.25,"J":0},{"s":"Fe-Co-Ni-LDH-4","V":1.3,"J":1.5},{"s":"Fe-Co-Ni-LDH-4","V":1.332,"J":4},{"s":"Fe-Co-Ni-LDH-4","V":1.345,"J":9},{"s":"Fe-Co-Ni-LDH-4","V":1.364,"J":19},{"s":"Fe-Co-Ni-LDH-4","V":1.385,"J":32.7},{"s":"Fe-Co-Ni-LDH-4","V":1.4,"J":43},{"s":"Fe-Co-Ni-LDH-4","V":1.414,"J":49.7},{"s":"Fe-Co-Ni-LDH-4","V":1.42,"J":49.5},{"s":"Fe-Co-Ni-LDH-4","V":1.43,"J":46},{"s":"Fe-Co-Ni-LDH-4","V":1.44,"J":39},{"s":"Fe-Co-Ni-LDH-4","V":1.45,"J":30},{"s":"Fe-Co-Ni-LDH-4","V":1.455,"J":27.5},{"s":"Fe-Co-Ni-LDH-4","V":1.46,"J":29},{"s":"Fe-Co-Ni-LDH-4","V":1.47,"J":38},{"s":"Fe-Co-Ni-LDH-4","V":1.48,"J":52},{"s":"Fe-Co-Ni-LDH-4","V":1.49,"J":73},{"s":"Fe-Co-Ni-LDH-4","V":1.5,"J":100},{"s":"Fe-Co-Ni-LDH-4","V":1.518,"J":150},{"s":"Fe-Co-Ni-LDH-4","V":1.536,"J":202}
    ]},
    "mark": {"type": "line", "strokeWidth": 2.5, "interpolate": "monotone", "clip": true},
    "encoding": {"color": {"field": "s", "type": "nominal", "scale": {"domain": ["Fe-Co-Ni-LDH-1", "Fe-Co-Ni-LDH-2", "Fe-Co-Ni-LDH-3", "Fe-Co-Ni-LDH-4"], "range": ["#1A7FE6", "#FF4C4C", "#E89CC8", "#6ED2B4"]},
      "legend": {"orient": "none", "legendX": 19.2, "legendY": 7.75, "labelFontSize": 12, "symbolType": "M-3,0H1", "symbolStrokeWidth": 2.5, "symbolSize": 156, "rowPadding": -1.5, "labelOffset": 3.5}}}},
   {"data": {"values": [{"V": 1.764, "J": 183, "t": "(d)"}]}, "mark": {"type": "text", "fontSize": 25, "fontWeight": "normal", "color": "#000"}, "encoding": {"text": {"field": "t"}}}
  ]
 }
]
}
